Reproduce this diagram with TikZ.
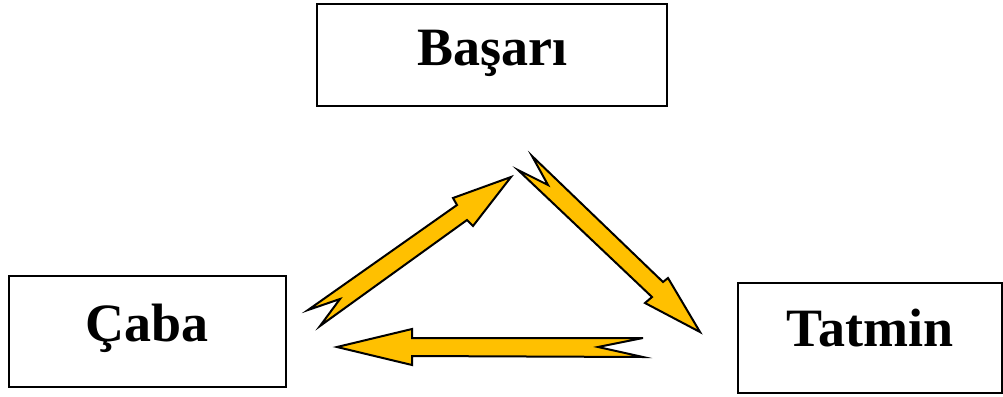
\documentclass[tikz,border=0pt]{standalone}
\usepackage{fontspec}
\setmainfont{Liberation Serif}
\definecolor{arrowgold}{HTML}{FFC000}
\tikzset{
  box/.style={draw, line width=2pt, inner sep=0pt, anchor=north west},
  boxfont/.style={font=\fontsize{54}{54}\selectfont\bfseries},
  blockarrow/.style={fill=arrowgold, draw=black, line width=2pt},
}
\begin{document}
\begin{tikzpicture}[x=1pt,y=-1pt]
  \useasboundingbox (0,0) rectangle (1003,396);
  % Boxes (top left corner, text baseline set by text height)
  \node[box, boxfont, minimum width=350pt, text height=62pt, text depth=40pt] (basari) at (316,3) {Başarı};
  \node[box, boxfont, minimum width=277pt, text height=65pt, text depth=46pt] (caba) at (8,275) {Çaba};
  \node[box, boxfont, minimum width=264pt, text height=63pt, text depth=47pt] (tatmin) at (737,282) {Tatmin};
  % Notched arrows
  % Caba to Basari
  \draw[blockarrow] (308,310) -- (457,205) -- (453,198) -- (511,177) -- (473,226)
    -- (467,220) -- (320,326) -- (340,299) -- cycle;
  % Basari to Tatmin
  \draw[blockarrow] (532,156) -- (663,282) -- (668,278) -- (700,332) -- (645,303)
    -- (652,297) -- (518,170) -- (548,185) -- cycle;
  % Tatmin to Caba
  \draw[blockarrow] (643,338) -- (412,338) -- (412,329) -- (337,347) -- (412,365)
    -- (412,356) -- (643,357) -- (598,347) -- cycle;
\end{tikzpicture}
\end{document}
